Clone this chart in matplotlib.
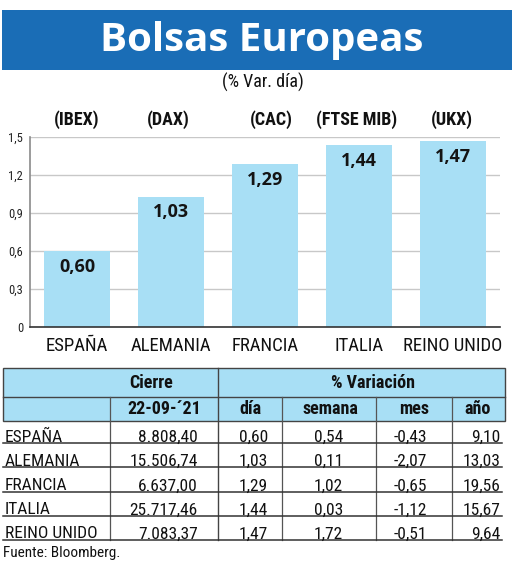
import matplotlib
matplotlib.use("Agg")
import matplotlib.pyplot as plt
from matplotlib import font_manager as fm
from matplotlib.patches import Rectangle

# datos
paises = ["ESPAÑA", "ALEMANIA", "FRANCIA", "ITALIA", "REINO UNIDO"]
indices = ["(IBEX)", "(DAX)", "(CAC)", "(FTSE MIB)", "(UKX)"]
var_dia = [0.60, 1.03, 1.29, 1.44, 1.47]
cierre = ["8.808,40", "15.506,74", "6.637,00", "25.717,46", "7.083,37"]
var_semana = [0.54, 0.11, 1.02, 0.03, 1.72]
var_mes = [-0.43, -2.07, -0.65, -1.12, -0.51]
var_anio = [9.10, 13.03, 19.56, 15.67, 9.64]
yticks = [0, 0.3, 0.6, 0.9, 1.2, 1.5]
fecha = "22-09-´21"

AZUL = "#1a6db6"
CELESTE = "#a8dff5"

nombres = {f.name for f in fm.fontManager.ttflist}


def elegir(*cands):
    for c in cands:
        if c in nombres:
            return c
    return "DejaVu Sans"


NARROW = elegir("Liberation Sans Narrow", "Roboto Condensed", "Open Sans Condensed", "Roboto")
TITULO = elegir("Open Sans", "Lato", "Noto Sans")
NUM = elegir("Open Sans", "Roboto", "Noto Sans")


def coma(v):
    return f"{v:.2f}".replace(".", ",")


W, H = 520, 566
fig = plt.figure(figsize=(W / 100, H / 100), dpi=100)

ov = fig.add_axes([0, 0, 1, 1])
ov.set_xlim(0, W)
ov.set_ylim(H, 0)
ov.axis("off")

# cabecera
ov.add_patch(Rectangle((2, 10), 510, 60, color=AZUL, lw=0))
ov.text(262, 40, "Bolsas Europeas", color="white", fontsize=29, fontweight="bold",
        family=TITULO, ha="center", va="center")
ov.text(263, 82, "(% Var. día)", fontsize=13, family=NARROW, ha="center", va="center",
        color="#111111")

# grafico de barras
ax = fig.add_axes([30 / W, (H - 327) / H, 470 / W, 190 / H])
x = list(range(len(paises)))
ax.bar(x, var_dia, width=0.71, color=CELESTE, zorder=2)
ax.set_xlim(-0.5, 4.5)
ax.set_ylim(0, 1.5)
ax.set_yticks(yticks)
ax.set_yticklabels([("%g" % t).replace(".", ",") for t in yticks], family=NARROW,
                   fontsize=9, color="#222222")
ax.set_xticks(x)
ax.set_xticklabels(paises, family=NARROW, fontsize=13.5, color="#111111")
ax.tick_params(axis="both", length=0)
ax.tick_params(axis="y", pad=5)
ax.tick_params(axis="x", pad=7)
ax.grid(axis="y", color="#c8c8c8", lw=1, zorder=0)
for s in ["top", "right"]:
    ax.spines[s].set_visible(False)
ax.spines["left"].set_color("#8a8a8a")
ax.spines["bottom"].set_color("#333333")
ax.spines["left"].set_linewidth(1.2)
ax.spines["bottom"].set_linewidth(1.2)

# los indices no van exactamente centrados sobre las barras
desplaz = [0, -3, 6, -2, -1]
for i, v in enumerate(var_dia):
    ax.annotate(coma(v), (i, v), xytext=(0, -5), textcoords="offset points",
                ha="center", va="top", fontsize=13, fontweight="bold",
                family=NUM, color="#141414", zorder=3)
    ax.annotate(indices[i], (i, 1.64), xytext=(desplaz[i], 0), textcoords="offset pixels",
                ha="center", va="center", fontsize=13, fontweight="bold",
                family=NARROW, color="#111111", annotation_clip=False)

# tabla
LINEA = "#333333"
top, mid, hb = 368, 397, 421
filas = [443, 467, 492, 516, 540]
ov.add_patch(Rectangle((3, top), 502, hb - top, facecolor=CELESTE, edgecolor="#444444",
                       lw=1))
ov.plot([3, 505], [mid, mid], color="#444444", lw=1)
ov.plot([218, 218], [top, 540], color="#444444", lw=1)
for xv in [110, 282, 376, 452]:
    ov.plot([xv, xv], [mid, 540], color="#555555", lw=0.9)
for yf in filas:
    ov.plot([3, 502], [yf, yf], color=LINEA, lw=1.1)

hfont = dict(family=NARROW, fontsize=13, fontweight="bold", color="#111111",
             va="center", ha="center")
ov.text(151, 383, "Cierre", **hfont)
ov.text(373, 383, "% Variación", **hfont)
ov.text(164, 409, fecha, **hfont)
ov.text(250, 409, "día", **hfont)
ov.text(330, 409, "semana", **hfont)
ov.text(414, 409, "mes", **hfont)
ov.text(478, 409, "año", **hfont)

dfont = dict(family=NARROW, fontsize=12.5, color="#111111", va="baseline")
for k in range(len(paises)):
    yb = filas[k] - 1.5
    ov.text(5, yb, paises[k], ha="left", **dfont)
    ov.text(198, yb, cierre[k], ha="right", **dfont)
    ov.text(268, yb, coma(var_dia[k]), ha="right", **dfont)
    ov.text(343, yb, coma(var_semana[k]), ha="right", **dfont)
    ov.text(427, yb, coma(var_mes[k]), ha="right", **dfont)
    ov.text(500, yb, coma(var_anio[k]), ha="right", **dfont)

ov.text(3, 553, "Fuente: Bloomberg.", family=NARROW, fontsize=11, color="#111111",
        ha="left", va="center")

fig.savefig("out.png", dpi=100)
